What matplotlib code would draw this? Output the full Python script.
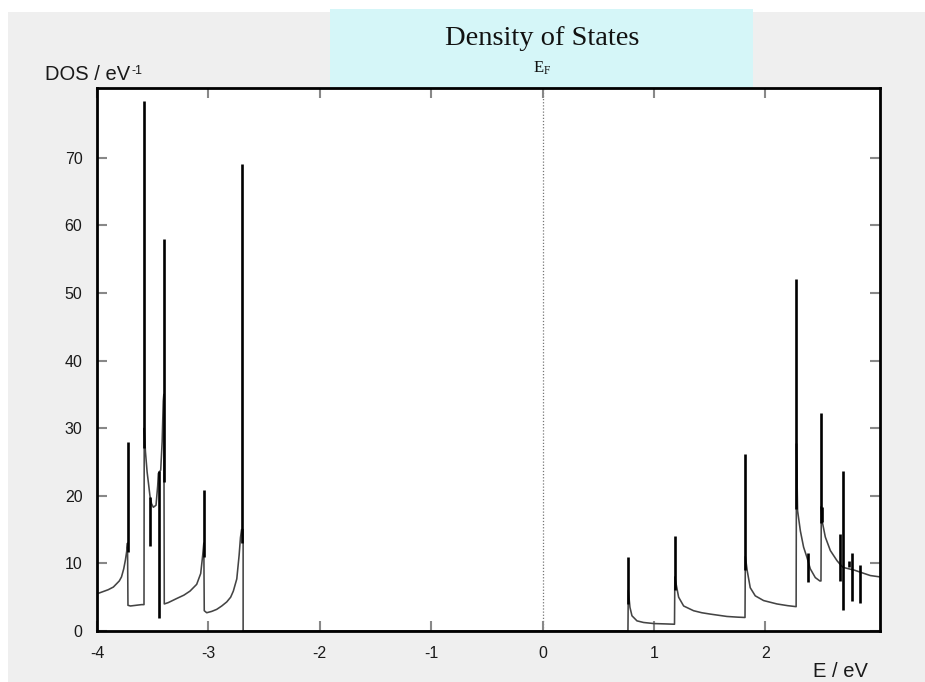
import matplotlib
matplotlib.use("Agg")
import matplotlib.pyplot as plt
from matplotlib.patches import Rectangle

# Density of states, occupied bands below the gap
valence_E = [-4.000, -3.950, -3.900, -3.853, -3.800, -3.780, -3.760, -3.745, -3.734, -3.726,
             -3.722, -3.700, -3.650, -3.600, -3.578,
             -3.576, -3.565, -3.550, -3.539, -3.524, -3.510, -3.494, -3.470, -3.455, -3.449,
             -3.428, -3.415, -3.405, -3.400,
             -3.396, -3.360, -3.285, -3.220, -3.165, -3.105, -3.069, -3.051, -3.041,
             -3.037, -3.015, -2.970, -2.925, -2.880, -2.835, -2.800, -2.776, -2.745, -2.724,
             -2.712, -2.702, -2.688, -2.688]
valence_dos = [5.5, 5.8, 6.1, 6.5, 7.4, 8.0, 9.2, 10.5, 11.7, 13.0,
               3.8, 3.7, 3.8, 3.9, 3.9,
               30.0, 26.5, 23.5, 22.0, 19.9, 18.8, 18.3, 18.6, 21.5, 23.3,
               23.8, 28.0, 34.0, 35.0,
               4.0, 4.2, 4.8, 5.3, 5.9, 6.9, 8.5, 11.2, 13.0,
               3.0, 2.7, 2.9, 3.2, 3.7, 4.3, 5.0, 5.9, 7.7, 11.2,
               13.8, 15.0, 15.0, 0.0]

# Band gap
gap_E = [-2.688, 0.767]
gap_dos = [0.0, 0.0]

# Unoccupied bands above the gap
conduction_E = [0.767, 0.770, 0.785, 0.803, 0.848, 0.907, 1.000, 1.100, 1.185,
                1.188, 1.200, 1.222, 1.267, 1.356, 1.430, 1.506, 1.656, 1.750, 1.818,
                1.821, 1.838, 1.865, 1.910, 1.985, 2.105, 2.200, 2.277,
                2.280, 2.290, 2.315, 2.344, 2.374, 2.404, 2.449, 2.490, 2.500,
                2.503, 2.510, 2.539, 2.584, 2.644, 2.680, 2.700, 2.749, 2.800, 2.853,
                2.943, 3.030]
conduction_dos = [0.0, 6.0, 3.5, 2.25, 1.5, 1.26, 1.1, 1.05, 1.0,
                  8.0, 6.9, 5.0, 3.7, 3.0, 2.7, 2.5, 2.15, 2.05, 2.0,
                  11.0, 8.9, 6.4, 5.2, 4.5, 4.0, 3.75, 3.6,
                  27.7, 17.8, 14.8, 12.4, 10.9, 9.2, 7.9, 7.4, 7.4,
                  18.4, 16.3, 13.9, 11.9, 10.4, 9.7, 9.4, 9.2, 9.0, 8.7,
                  8.2, 8.0]

# Sharp van Hove peaks
spike_E = [-3.724, -3.576, -3.520, -3.443, -3.398, -3.039, -2.700,
           0.767, 1.188, 1.820, 2.279, 2.380, 2.503, 2.507, 2.674, 2.694, 2.749, 2.779, 2.853]
spike_lo = [11.7, 27.0, 12.5, 1.9, 22.0, 11.0, 13.0,
            4.0, 6.0, 9.0, 18.0, 7.2, 16.0, 16.1, 7.4, 3.1, 9.4, 4.5, 4.1]
spike_hi = [27.9, 78.4, 19.8, 23.7, 57.9, 20.8, 69.1,
            10.9, 14.0, 26.2, 52.1, 11.5, 32.2, 18.4, 14.3, 23.7, 10.4, 11.6, 9.7]

x_ticks = [-4, -3, -2, -1, 0, 1, 2]
y_ticks = [0, 10, 20, 30, 40, 50, 60, 70]
fermi_level = 0.0

plt.rcParams['axes.unicode_minus'] = False
SANS = 'Liberation Sans'
SERIF = 'Liberation Serif'

W, H = 925, 682
fig = plt.figure(figsize=(W / 100, H / 100), dpi=100, facecolor='white')

# panel background and title box
fig.patches.append(Rectangle((8 / W, 0), 1 - 8 / W, 1 - 12 / H, transform=fig.transFigure,
                             facecolor='#efefef', edgecolor='none', zorder=-10))
fig.patches.append(Rectangle((330 / W, 1 - 88 / H), 423 / W, 79 / H, transform=fig.transFigure,
                             facecolor='#d5f6f8', edgecolor='none', zorder=-9))

ax = fig.add_axes([97 / W, 1 - 631 / H, 783 / W, 543 / H])
ax.set_facecolor('white')

for E, d in ((valence_E, valence_dos), (gap_E, gap_dos), (conduction_E, conduction_dos)):
    ax.plot(E, d, color='#444444', lw=1.15, zorder=2)
ax.vlines(spike_E, spike_lo, spike_hi, color='black', lw=1.9, zorder=3)
ax.axvline(fermi_level, color='#777777', lw=0.9, ls=(0, (1, 1.5)), zorder=1)

ax.set_xlim(-4, 3.03)
ax.set_ylim(0, 80.3)
ax.set_xticks(x_ticks)
ax.set_yticks(y_ticks)
ax.tick_params(direction='in', length=7, width=1.5, color='#888888',
               top=True, right=True, labelsize=11.5, labelcolor='#1a1a1a')
ax.tick_params(axis='y', pad=10.5)
ax.tick_params(axis='x', pad=11)
for lab in ax.get_xticklabels() + ax.get_yticklabels():
    lab.set_family(SANS)
for s in ax.spines.values():
    s.set_linewidth(2.0)
    s.set_color('black')

fig.text(541.7 / W, 1 - 45 / H, 'Density of States', ha='center', va='baseline',
         fontsize=20.5, family=SERIF, color='#111111')
fig.text(542 / W, 1 - 73 / H, r'$\mathregular{E_F}$', ha='center', va='baseline',
         fontsize=12, family=SERIF, color='#111111')

ylab = fig.text(45 / W, 1 - 80 / H, 'DOS / eV', ha='left', va='baseline',
                fontsize=14.5, family=SANS, color='#1a1a1a')
fig.canvas.draw()
bb = ylab.get_window_extent(renderer=fig.canvas.get_renderer())
fig.text(bb.x1 / W + 1 / W, 1 - 74 / H, '-1', ha='left', va='baseline',
         fontsize=9, family=SANS, color='#1a1a1a')

fig.text(813 / W, 1 - 677 / H, 'E / eV', ha='left', va='baseline',
         fontsize=14.5, family=SANS, color='#1a1a1a')

fig.savefig('out.png', dpi=100, facecolor=fig.get_facecolor())
